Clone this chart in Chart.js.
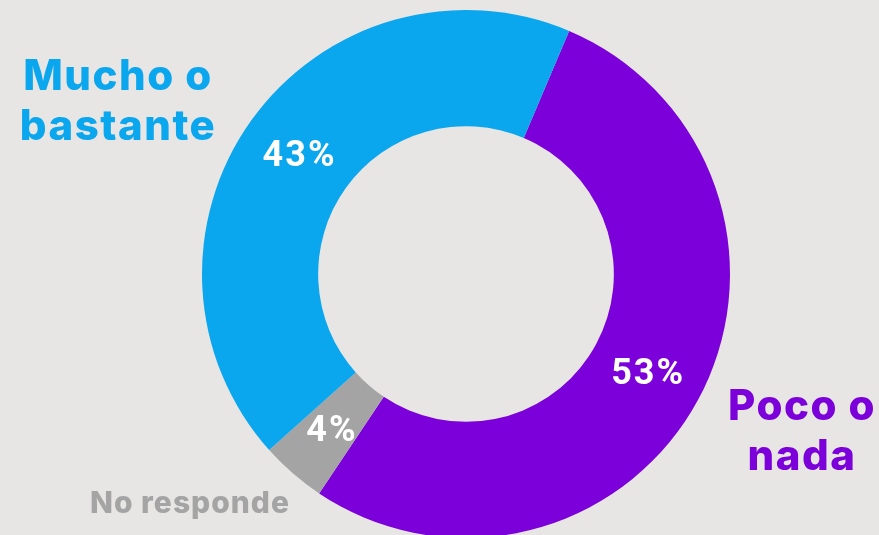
<!DOCTYPE html>
<html>
<head>
<meta charset="utf-8">
<script src="https://cdn.jsdelivr.net/npm/chart.js@4"></script>
<style>
  html, body { margin: 0; padding: 0; background: #e8e6e5; overflow: hidden; }
  body { width: 879px; height: 535px; position: relative; }
  .wrap { position: absolute; left: 0; top: 10px; width: 879px; height: 528px; }
</style>
</head>
<body>
<div class="wrap"><canvas class="js-chart"></canvas></div>
<script>
const labels = ['Poco o nada', 'No responde', 'Mucho o bastante'];
const values = [53, 4, 43];
const colors = ['#7b00d9', '#a4a4a4', '#0aa6ee'];
const outerLines = [['Poco o', 'nada'], ['No responde'], ['Mucho o', 'bastante']];

const ctx = document.querySelector('.js-chart').getContext('2d');

// baseline of first line in canvas px (canvas is 10px below page top)
const outerPos = [
    { x: 802, y: 410, size: 42, gap: 50, sp: 1.5 },
    { x: 190, y: 503, size: 30, gap: 0, sp: 1 },
    { x: 118, y: 80, size: 42, gap: 50, sp: 1.5 },
];

const sliceLabels = {
    id: 'sliceLabels',
    afterDatasetsDraw(chart) {
        const c = chart.ctx;
        const meta = chart.getDatasetMeta(0);
        c.save();
        c.textAlign = 'center';
        c.textBaseline = 'alphabetic';
        c.fillStyle = '#ffffff';
        c.font = 'bold 36px Roboto, sans-serif';
        c.letterSpacing = '2px';
        meta.data.forEach((arc, i) => {
            const p = arc.tooltipPosition();
            c.fillText(values[i] + '%', p.x + 1, p.y + 12);
        });
        outerPos.forEach((pos, i) => {
            c.fillStyle = colors[i];
            c.letterSpacing = pos.sp + 'px';
            c.font = '800 ' + pos.size + 'px Inter, sans-serif';
            outerLines[i].forEach((line, j) => {
                c.fillText(line, pos.x, pos.y + j * pos.gap);
            });
        });
        c.restore();
    }
};

new Chart(ctx, {
    type: 'doughnut',
    data: {
        labels,
        datasets: [{
            data: values,
            backgroundColor: colors,
            borderWidth: 0,
        }]
    },
    options: {
        responsive: true,
        maintainAspectRatio: false,
        animation: false,
        rotation: 23,
        cutout: '56%',
        layout: { padding: { left: 53 } },
        plugins: {
            legend: { display: false },
            tooltip: { enabled: false },
        }
    },
    plugins: [sliceLabels]
});
</script>
</body>
</html>
